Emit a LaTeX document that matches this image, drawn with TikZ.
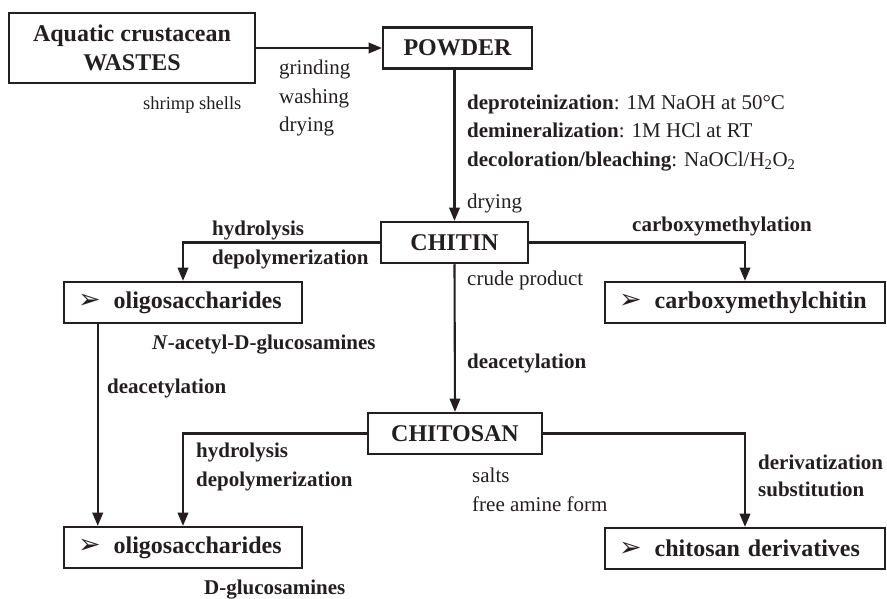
\documentclass[tikz,border=0pt]{standalone}
\usepackage{fontspec}
\setmainfont{Liberation Serif}
\newfontfamily\dingfont{DejaVu Sans}
\usetikzlibrary{arrows}
\definecolor{qqqqqq}{RGB}{35,31,32}

\begin{document}
\begin{tikzpicture}[line cap=butt,line join=miter,>=triangle 45,x=1pt,y=-1pt,
	box/.style={draw=qqqqqq,line width=2.5pt,minimum height=41pt,font=\fontsize{24}{26}\selectfont\bfseries,text=qqqqqq},
	product/.style={box,inner xsep=14pt,align=left},
	conn/.style={draw=qqqqqq,line width=2.1pt},
	lbl/.style={anchor=west,inner sep=0pt,text=qqqqqq,align=left,font=\fontsize{21}{28.5}\selectfont},
	blbl/.style={lbl,font=\fontsize{21}{28.5}\selectfont\bfseries}]
	\useasboundingbox (0,0) rectangle (887,599);
	\node[box,minimum width=246pt,minimum height=70pt,align=center,font=\fontsize{24}{29}\selectfont\bfseries] (wastes) at (132,48) {Aquatic crustacean\\WASTES};
	\node[box,minimum width=149pt] (powder) at (457.5,48) {POWDER};
	\node[box,minimum width=147pt] (chitin) at (454.5,242.5) {CHITIN};
	\node[box,minimum width=174pt] (chitosan) at (455,433.5) {CHITOSAN};
	\node[product,text width=210pt] (oligoA) at (183,302.5) {{\dingfont\fontsize{27}{20}\selectfont ➢}\hspace{13pt}oligosaccharides};
	\node[product,text width=210pt] (oligoB) at (183,547.5) {{\dingfont\fontsize{27}{20}\selectfont ➢}\hspace{13pt}oligosaccharides};
	\node[product,text width=252pt] (cmchitin) at (745,302.5) {{\dingfont\fontsize{27}{20}\selectfont ➢}\hspace{13pt}carboxymethylchitin};
	\node[product,text width=252pt] (chderiv) at (745,548.5) {{\dingfont\fontsize{27}{20}\selectfont ➢}\hspace{13pt}chitosan derivatives};
	\coordinate (oligoAdown) at ([xshift=35pt]oligoA.south west);
	\coordinate (oligoBup) at ([xshift=35pt]oligoB.north west);
	\draw[conn,->] (wastes.east) -- (powder.west);
	\draw[conn,->] (chitin.north |- powder.south) -- (chitin.north);
	\draw[conn,->] (chitin.south) -- (chitosan.north);
	\draw[conn,->] (chitin.west) -| (oligoA.north);
	\draw[conn,->] (chitin.east) -| (cmchitin.north);
	\draw[conn,->] (oligoAdown) -- (oligoBup);
	\draw[conn,->] (chitosan.west) -| (oligoB.north);
	\draw[conn,->] (chitosan.east) -| (chderiv.north);
		\node[lbl,font=\fontsize{18.5}{20}\selectfont] (shells) at (143,105) {shrimp shells};
		\node[lbl] (grind) at (279,98) {grinding\\washing\\drying};
		\node[lbl] (treat) at (467,133) {\textbf{deproteinization}: 1M NaOH at 50°C\\\textbf{demineralization}: 1M HCl at RT\\\textbf{decoloration/bleaching}: NaOCl/H\textsubscript{2}O\textsubscript{2}};
		\node[lbl] (dry) at (467,203) {drying};
		\node[blbl] (hydroA) at (212,245) {hydrolysis\\depolymerization};
		\node[blbl] (carboxy) at (632,226) {carboxymethylation};
		\node[lbl] (crude) at (467,280) {crude product};
		\node[blbl] (acetyl) at (152,345) {\textit{N}-acetyl-D-glucosamines};
		\node[blbl] (deacA) at (107,388) {deacetylation};
		\node[blbl] (deacB) at (467,363) {deacetylation};
		\node[blbl] (hydroB) at (196,467) {hydrolysis\\depolymerization};
		\node[lbl] (salts) at (472,490) {salts\\free amine form};
		\node[blbl,font=\fontsize{21}{27}\selectfont\bfseries] (deriv) at (758,476) {derivatization\\substitution};
		\node[blbl] (gluco) at (204,590) {D-glucosamines};
\end{tikzpicture}
\end{document}
